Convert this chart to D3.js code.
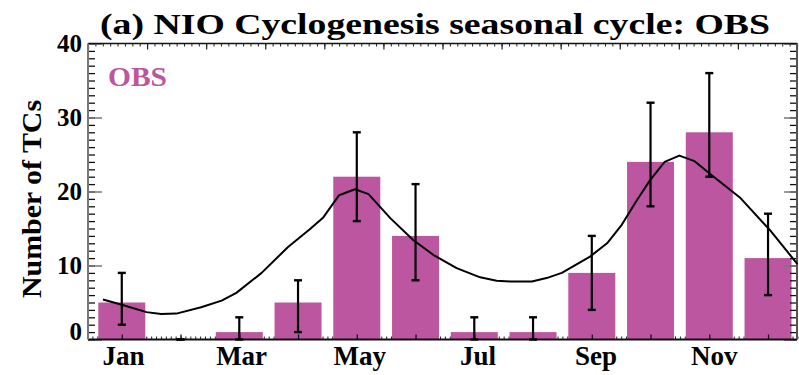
<!DOCTYPE html>
<html>
<head>
<meta charset="utf-8">
<script src="https://cdn.jsdelivr.net/npm/d3@7"></script>
<style>
  html, body { margin: 0; padding: 0; background: #fff; }
  svg { display: block; }
  text { font-family: "Liberation Serif", "DejaVu Serif", serif; font-weight: bold; }
</style>
</head>
<body>
<script>
// Monthly tropical-cyclone genesis counts, North Indian Ocean (observations)
const months = ["Jan", "Feb", "Mar", "Apr", "May", "Jun", "Jul", "Aug", "Sep", "Oct", "Nov", "Dec"];
const monthLabels = ["Jan", "Mar", "May", "Jul", "Sep", "Nov"];
const obsCounts = [5, 0, 1, 5, 22, 14, 1, 1, 9, 24, 28, 11];
const errLow    = [2, 0, 0, 1, 16, 8, 0, 0, 4, 18, 22, 6];
const errHigh   = [9, 0, 3, 8, 28, 21, 3, 3, 14, 32, 36, 17];

// smoothed seasonal cycle (month position, count)
const curveMonth = [0.68, 1.0, 1.42, 1.67, 1.93, 2.35, 2.70, 2.95, 3.38, 3.83, 4.2, 4.43, 4.70, 4.97,
                    5.20, 5.57, 5.96, 6.30, 6.70, 7.10, 7.38, 7.61, 7.98, 8.23, 8.49, 8.97, 9.26,
                    9.51, 9.77, 9.99, 10.24, 10.49, 10.75, 11.01, 11.52, 12.03, 12.50];
const curveCount = [5.4, 4.7, 3.7, 3.45, 3.5, 4.35, 5.25, 6.3, 9.0, 12.5, 14.9, 16.5, 19.5, 20.3,
                    19.65, 16.4, 13.45, 11.45, 9.65, 8.4, 7.95, 7.85, 7.85, 8.3, 9.0, 11.2, 13.0,
                    15.5, 18.85, 21.5, 24.0, 24.85, 24.1, 22.4, 19.2, 14.8, 10.2];

const yMajor = [0, 10, 20, 30, 40];
const yMinor = d3.range(0, 41, 1);

const W = 799, H = 375;
const barColor = "#bd56a0";

const svg = d3.select("body").append("svg").attr("width", W).attr("height", H);

const x = d3.scaleLinear().domain([0.425, 12.493]).range([88, 797]);
const xLab = d3.scaleLinear().domain([0.4, 12.4]).range([88, 797]);
const y = d3.scaleLinear().domain([0, 40]).range([339.5, 43.5]);
const xLeft = x.range()[0], xRight = x.range()[1];
const yBottom = y(0), yTop = y(40);

// minor ticks along the bottom (hidden under bars)
const bottomMinor = d3.range(0.5, 12.5 + 1e-9, 1 / 12);
svg.append("g").attr("transform", `translate(0,${yBottom})`)
  .call(d3.axisTop(x).tickValues(bottomMinor).tickSize(3).tickFormat(""))
  .call(g => g.select(".domain").remove())
  .selectAll("line").attr("stroke", "#222").attr("stroke-width", 1);

// top axis: 12 equal divisions, 8 minor ticks each
const topScale = d3.scaleLinear().domain([0, 96]).range([xLeft, xRight]);
svg.append("g").attr("transform", `translate(0,${yTop})`)
  .call(d3.axisBottom(topScale).tickValues(d3.range(0, 97, 1)).tickSize(3).tickFormat(""))
  .call(g => g.select(".domain").remove())
  .selectAll("line").attr("stroke", "#222").attr("stroke-width", 1);
svg.append("g").attr("transform", `translate(0,${yTop})`)
  .call(d3.axisBottom(topScale).tickValues(d3.range(0, 97, 8)).tickSize(6).tickFormat(""))
  .call(g => g.select(".domain").remove())
  .selectAll("line").attr("stroke", "#222").attr("stroke-width", 1.2);

// bars
svg.append("g").selectAll("rect")
  .data(obsCounts)
  .join("rect")
  .attr("x", (d, i) => x(i + 1) - 0.4 * (x(2) - x(1)))
  .attr("width", 0.8 * (x(2) - x(1)))
  .attr("y", d => y(d))
  .attr("height", d => yBottom - y(d))
  .attr("fill", barColor);

// major month ticks along the bottom
svg.append("g").attr("transform", `translate(0,${yBottom})`)
  .call(d3.axisTop(x).tickValues(d3.range(1, 13)).tickSize(5).tickFormat(""))
  .call(g => g.select(".domain").remove())
  .selectAll("line").attr("stroke", "#111").attr("stroke-width", 1.3);

// left axis ticks
svg.append("g").attr("transform", `translate(${xLeft},0)`)
  .call(d3.axisRight(y).tickValues(yMinor).tickSize(7).tickFormat(""))
  .call(g => g.select(".domain").remove())
  .selectAll("line").attr("stroke", "#111").attr("stroke-width", 1.3);
svg.append("g").attr("transform", `translate(${xLeft},0)`)
  .call(d3.axisRight(y).tickValues(yMajor).tickSize(14).tickFormat(""))
  .call(g => g.select(".domain").remove())
  .selectAll("line").attr("stroke", "#777").attr("stroke-width", 1.5);

// right axis ticks
svg.append("g").attr("transform", `translate(${xRight},0)`)
  .call(d3.axisLeft(y).tickValues(yMinor).tickSize(7).tickFormat(""))
  .call(g => g.select(".domain").remove())
  .selectAll("line").attr("stroke", "#111").attr("stroke-width", 1.3);
svg.append("g").attr("transform", `translate(${xRight},0)`)
  .call(d3.axisLeft(y).tickValues(yMajor).tickSize(13).tickFormat(""))
  .call(g => g.select(".domain").remove())
  .selectAll("line").attr("stroke", "#777").attr("stroke-width", 1.5);

// frame
svg.append("line").attr("x1", xLeft).attr("x2", xRight).attr("y1", yTop).attr("y2", yTop)
  .attr("stroke", "#111").attr("stroke-width", 1.5);
svg.append("line").attr("x1", xLeft).attr("x2", xRight).attr("y1", yBottom).attr("y2", yBottom)
  .attr("stroke", "#111").attr("stroke-width", 2);
svg.append("line").attr("x1", xLeft).attr("x2", xLeft).attr("y1", yTop).attr("y2", yBottom)
  .attr("stroke", "#777").attr("stroke-width", 2);
svg.append("line").attr("x1", xRight).attr("x2", xRight).attr("y1", yTop).attr("y2", yBottom)
  .attr("stroke", "#555").attr("stroke-width", 2);

// seasonal-cycle curve
const line = d3.line().x(d => x(d[0])).y(d => y(d[1]));
svg.append("path")
  .datum(d3.zip(curveMonth, curveCount))
  .attr("d", line)
  .attr("fill", "none")
  .attr("stroke", "#000")
  .attr("stroke-width", 2)
  .attr("stroke-linejoin", "round");

// error bars
const capW = 4;
const eb = svg.append("g").attr("stroke", "#000");
months.forEach((m, i) => {
  const cx = x(i + 1);
  eb.append("line").attr("x1", cx).attr("x2", cx).attr("y1", y(errLow[i])).attr("y2", y(errHigh[i]))
    .attr("stroke-width", 2.2);
  [errLow[i], errHigh[i]].forEach(v => {
    eb.append("line").attr("x1", cx - capW).attr("x2", cx + capW).attr("y1", y(v)).attr("y2", y(v))
      .attr("stroke-width", 2.4);
  });
});

// y tick labels
svg.append("g").selectAll("text")
  .data(yMajor)
  .join("text")
  .attr("x", 82)
  .attr("y", d => Math.min(y(d) + 8.5, yBottom))
  .attr("text-anchor", "end")
  .attr("font-size", 25)
  .attr("fill", "#000")
  .text(d => d);

// month labels
svg.append("g").selectAll("text")
  .data(monthLabels)
  .join("text")
  .attr("x", d => xLab(months.indexOf(d) + 1))
  .attr("y", 365)
  .attr("text-anchor", "middle")
  .attr("font-size", 27)
  .attr("fill", "#000")
  .text(d => d);

// y-axis title
svg.append("text")
  .attr("transform", "translate(40.5,199) rotate(-90)")
  .attr("text-anchor", "middle")
  .attr("font-size", 28)
  .attr("textLength", 198)
  .attr("lengthAdjust", "spacingAndGlyphs")
  .attr("fill", "#000")
  .text("Number of TCs");

// title
svg.append("text")
  .attr("x", 100)
  .attr("y", 33.5)
  .attr("font-size", 29.5)
  .attr("textLength", 670)
  .attr("lengthAdjust", "spacingAndGlyphs")
  .attr("fill", "#000")
  .text("(a) NIO Cyclogenesis seasonal cycle: OBS");

// series tag
svg.append("text")
  .attr("x", 108)
  .attr("y", 86)
  .attr("font-size", 27)
  .attr("textLength", 59)
  .attr("lengthAdjust", "spacingAndGlyphs")
  .attr("fill", barColor)
  .text("OBS");
</script>
</body>
</html>
